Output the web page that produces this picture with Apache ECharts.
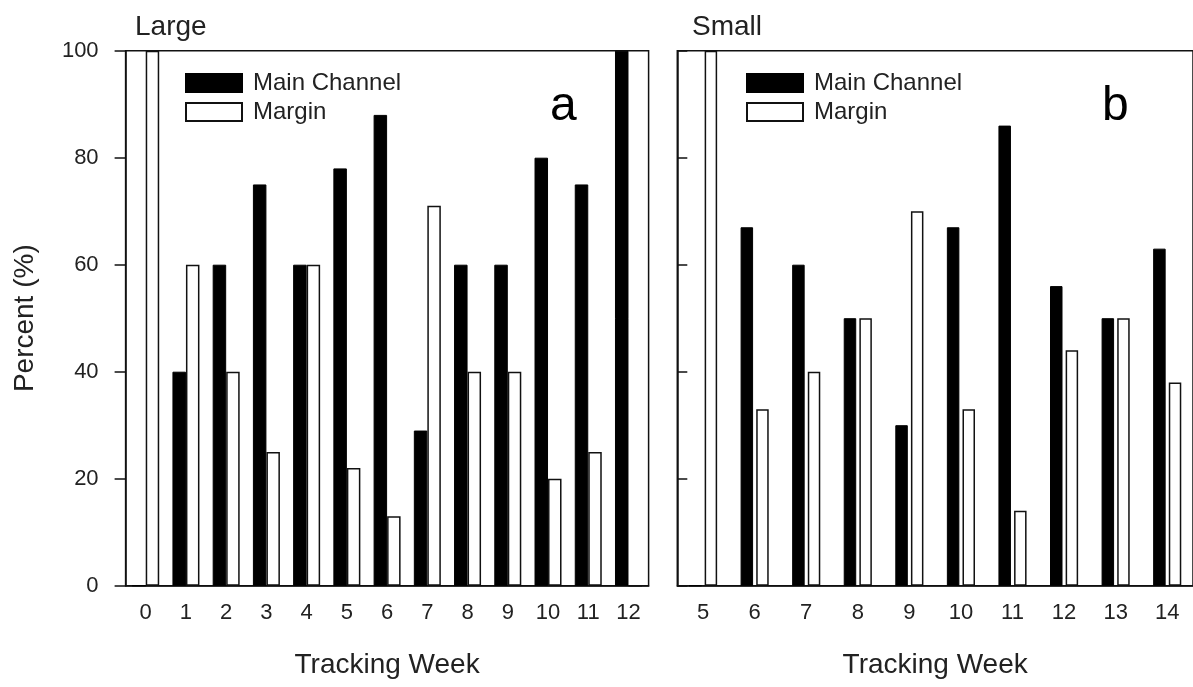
<!DOCTYPE html>
<html>
<head>
<meta charset="utf-8">
<script src="https://cdn.jsdelivr.net/npm/echarts@6/dist/echarts.min.js"></script>
<style>
html,body{margin:0;padding:0;background:#fff;}
#chart{width:1193px;height:687px;}
</style>
</head>
<body>
<div id="chart"></div>
<script>
const weeksLarge = ['0','1','2','3','4','5','6','7','8','9','10','11','12'];
const largeMain = [0,40,60,75,60,78,88,29,60,60,80,75,100];
const largeMargin = [100,60,40,25,60,22,13,71,40,40,20,25,0];
const weeksSmall = ['5','6','7','8','9','10','11','12','13','14'];
const smallMain = [0,67,60,50,30,67,86,56,50,63];
const smallMargin = [100,33,40,50,70,33,14,44,50,38];
const seriesNames = ['Main Channel','Margin'];
const panelTitles = ['Large','Small'];
const panelLetters = ['a','b'];
const yMin = 0, yMax = 100, yStep = 20;
const xTitle = 'Tracking Week';
const yTitle = 'Percent (%)';

const FONT = '"Liberation Sans", Arial, sans-serif';
const INK = '#111';
const LABEL = '#222';
const chart = echarts.init(document.getElementById('chart'), null, {renderer:'canvas'});

function xAxis(idx, cats){
  return {
    type:'category', gridIndex:idx, data:cats,
    name:xTitle, nameLocation:'middle', nameGap:66,
    nameTextStyle:{fontFamily:FONT,fontSize:28,color:LABEL},
    axisLine:{lineStyle:{color:INK,width:1.5}},
    axisTick:{alignWithLabel:true,length:8,lineStyle:{color:INK,width:1.5}},
    axisLabel:{fontFamily:FONT,fontSize:22,color:LABEL,margin:16},
    splitLine:{show:false}
  };
}
function yAxis(idx, showLabels){
  const ax = {
    type:'value', gridIndex:idx, min:yMin, max:yMax, interval:yStep,
    axisLine:{show:true,lineStyle:{color:INK,width:1.5}},
    axisTick:{show:true,inside:!showLabels,length:showLabels?11:10,lineStyle:{color:INK,width:1.5}},
    axisLabel:{show:showLabels,fontFamily:FONT,fontSize:22,color:LABEL,margin:27},
    splitLine:{show:false}
  };
  if(showLabels){
    ax.name = yTitle; ax.nameLocation='middle'; ax.nameGap=86;
    ax.nameTextStyle={fontFamily:FONT,fontSize:28,color:LABEL};
  }
  return ax;
}
const mainStyle = {color:'#000',borderColor:'#000',borderWidth:1};
const marginStyle = {color:'#fff',borderColor:INK,borderWidth:1.5};

function legend(left){
  return {
    left:left, top:66, orient:'vertical', icon:'rect',
    itemWidth:56, itemHeight:18, itemGap:5,
    data:seriesNames,
    textStyle:{fontFamily:FONT,fontSize:24,color:LABEL,padding:[0,0,0,6]},
    selectedMode:false
  };
}

const option = {
  backgroundColor:'#fff',
  animation:false,
  grid:[
    {left:125.6, top:50.7, width:523, height:535, show:true, borderColor:INK, borderWidth:1.5, containLabel:false},
    {left:677.3, top:50.7, width:524.4, height:535, show:true, borderColor:INK, borderWidth:1.5, containLabel:false}
  ],
  xAxis:[xAxis(0,weeksLarge), xAxis(1,weeksSmall)],
  yAxis:[yAxis(0,true), yAxis(1,false)],
  legend:[legend(180), legend(741)],
  series:[
    {name:seriesNames[0],type:'bar',xAxisIndex:0,yAxisIndex:0,data:largeMain,barWidth:13.5,barGap:'0%',itemStyle:mainStyle},
    {name:seriesNames[1],type:'bar',xAxisIndex:0,yAxisIndex:0,data:largeMargin,barWidth:13.5,barGap:'0%',itemStyle:marginStyle},
    {name:seriesNames[0],type:'bar',xAxisIndex:1,yAxisIndex:1,data:smallMain,barWidth:12.5,barGap:'25%',itemStyle:mainStyle},
    {name:seriesNames[1],type:'bar',xAxisIndex:1,yAxisIndex:1,data:smallMargin,barWidth:12.5,barGap:'25%',itemStyle:marginStyle}
  ],
  graphic:[
    {type:'text',left:135,top:13,style:{text:panelTitles[0],font:'28px '+FONT,fill:LABEL}},
    {type:'text',left:692,top:13,style:{text:panelTitles[1],font:'28px '+FONT,fill:LABEL}},
    {type:'text',left:550,top:83,style:{text:panelLetters[0],font:'48px '+FONT,fill:'#000'}},
    {type:'text',left:1102,top:83,style:{text:panelLetters[1],font:'48px '+FONT,fill:'#000'}}
  ]
};
chart.setOption(option);
</script>
</body>
</html>
